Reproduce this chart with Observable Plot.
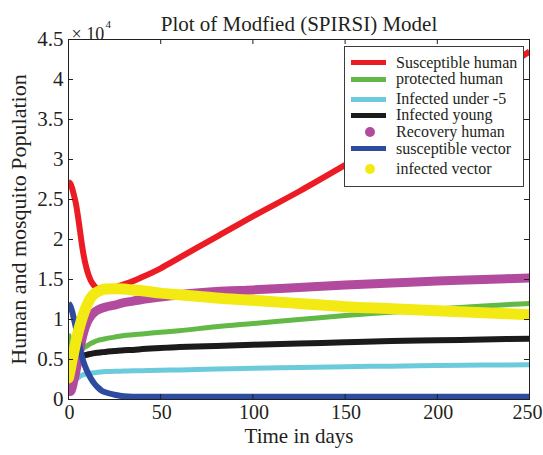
<!DOCTYPE html>
<html>
<head>
<meta charset="utf-8">
<script src="https://cdn.jsdelivr.net/npm/d3@7"></script>
<script src="https://cdn.jsdelivr.net/npm/@observablehq/plot@0.6"></script>
<style>
  html, body { margin: 0; padding: 0; background: #fff; }
  #wrap { position: relative; width: 543px; height: 455px; overflow: hidden; }
  #legend {
    position: absolute; left: 344px; top: 46px; width: 180px; height: 141px;
    box-sizing: border-box; border: 1px solid #3c3c3c; background: #fff;
    font-family: "Liberation Serif", "Times New Roman", serif; font-size: 16px; color: #231f20;
  }
  .lrow { position: absolute; left: 0; height: 20px; width: 100%; }
  .lrow .sw { position: absolute; left: 6px; top: 7.5px; width: 35px; height: 5px; }
  .lrow .dot { position: absolute; left: 20px; top: 5px; width: 10px; height: 10px; border-radius: 50%; }
  .lrow .lab { position: absolute; left: 51px; top: 0; line-height: 20px; white-space: nowrap; }
</style>
</head>
<body>
<div id="wrap"></div>
<script>
// ---- data (population in units of 10^4) ----
const days = [0,1,2,3,4,5,6,7,8,10,12,14,16,18,20,25,30,35,40,50,60,80,100,125,150,175,200,225,250];

const susceptibleHuman = [2.72,2.70,2.64,2.55,2.45,2.31,2.15,1.98,1.83,1.62,1.49,1.42,1.38,1.37,1.37,1.40,1.44,1.48,1.53,1.64,1.77,2.03,2.29,2.60,2.93,3.27,3.62,3.98,4.35];
const protectedHuman   = [0.82,0.72,0.63,0.58,0.57,0.58,0.60,0.62,0.64,0.67,0.70,0.72,0.74,0.75,0.76,0.78,0.80,0.81,0.82,0.84,0.86,0.91,0.95,1.00,1.05,1.09,1.13,1.17,1.20];
const infectedUnder5   = [0.12,0.14,0.18,0.22,0.25,0.27,0.285,0.30,0.31,0.32,0.33,0.335,0.34,0.345,0.35,0.352,0.355,0.358,0.36,0.365,0.37,0.38,0.39,0.40,0.41,0.417,0.424,0.43,0.435];
const infectedYoung    = [0.20,0.33,0.42,0.47,0.50,0.52,0.535,0.545,0.55,0.56,0.57,0.58,0.585,0.59,0.595,0.605,0.615,0.62,0.63,0.645,0.655,0.67,0.685,0.70,0.715,0.73,0.74,0.75,0.76];
const recoveryHuman    = [0.12,0.10,0.15,0.25,0.35,0.47,0.60,0.72,0.82,0.96,1.04,1.09,1.12,1.14,1.155,1.18,1.21,1.23,1.25,1.28,1.31,1.35,1.37,1.40,1.43,1.455,1.48,1.50,1.52];
const susceptibleVector= [1.20,1.17,1.10,1.00,0.90,0.79,0.67,0.56,0.48,0.36,0.27,0.20,0.15,0.11,0.09,0.06,0.04,0.035,0.035,0.035,0.035,0.035,0.035,0.035,0.035,0.035,0.035,0.035,0.035];
const infectedVector   = [0.27,0.38,0.50,0.61,0.72,0.82,0.91,0.99,1.06,1.18,1.27,1.32,1.35,1.37,1.38,1.385,1.38,1.37,1.36,1.33,1.31,1.27,1.24,1.20,1.16,1.135,1.11,1.085,1.06];

const seriesNames  = ["Susceptible human","protected human","Infected under -5","Infected young","Recovery human","susceptible vector","infected vector"];
const seriesColors = ["#ec1c24","#62b946","#6bcbdb","#1c1a1b","#b24b9e","#2e4c9f","#f3ea14"];
const seriesValues = [susceptibleHuman, protectedHuman, infectedUnder5, infectedYoung, recoveryHuman, susceptibleVector, infectedVector];
const seriesKind   = ["line","line","line","line","dot","line","dot"];

const xTicks = [0,50,100,150,200,250];
const yTicks = [0,0.5,1,1.5,2,2.5,3,3.5,4,4.5];

const titleText = "Plot of Modfied (SPIRSI) Model";
const xLabel = "Time in days";
const yLabel = "Human and mosquito Population";

// ---- styling ----
const widths = [6,5,5,6,9,6,11];
const W = 543, H = 455, mL = 68, mR = 14, mT = 39, mB = 56;
const fw = W - mL - mR, fh = H - mT - mB, tk = 5;

const lineMarks = seriesValues.map((vals, i) =>
  Plot.line(days, {x: days, y: vals, stroke: seriesColors[i], strokeWidth: widths[i],
    curve: "monotone-x", clip: true, strokeLinecap: seriesKind[i] === "dot" ? "round" : "butt"}));

const lastTick = xTicks[xTicks.length - 1];
const chart = Plot.plot({
  width: W, height: H,
  marginLeft: mL, marginRight: mR, marginTop: mT, marginBottom: mB,
  x: {domain: [0, 250]},
  y: {domain: [0, 4.5]},
  style: {fontFamily: "'Liberation Serif', 'Times New Roman', serif", fontSize: "21px", color: "#231f20", background: "#fff", overflow: "visible"},
  marks: [
    Plot.axisX(xTicks.filter(d => d !== lastTick), {anchor: "bottom", tickSize: 0, tickPadding: 5, label: null, fontSize: 20, dx: 1, tickFormat: d => String(d)}),
    Plot.axisX([lastTick], {anchor: "bottom", tickSize: 0, tickPadding: 5, label: null, fontSize: 20, dx: -2, tickFormat: d => String(d)}),
    Plot.axisY(yTicks, {anchor: "left", tickSize: 0, tickPadding: 5, label: null, fontSize: 21, tickFormat: d => String(d)}),
    ...lineMarks,
    Plot.tickX(xTicks, {x: d => d, insetTop: fh - tk, stroke: "#231f20"}),
    Plot.tickX(xTicks, {x: d => d, insetBottom: fh - tk, stroke: "#231f20"}),
    Plot.tickY(yTicks, {y: d => d, insetRight: fw - tk, stroke: "#231f20"}),
    Plot.tickY(yTicks, {y: d => d, insetLeft: fw - tk, stroke: "#231f20"}),
    Plot.frame({stroke: "#231f20"}),
    Plot.text([titleText], {frameAnchor: "top", textAnchor: "middle", dy: -23, fontSize: 21, fill: "#231f20"}),
    Plot.text([xLabel], {frameAnchor: "bottom", textAnchor: "middle", dy: 43, fontSize: 21, fill: "#231f20"}),
    Plot.text([yLabel], {frameAnchor: "left", textAnchor: "middle", dx: -50, rotate: -90, fontSize: 22, fill: "#231f20"}),
    Plot.text(["\u00d7 10"], {frameAnchor: "top-left", textAnchor: "start", dx: 3, dy: -12, fontSize: 18, fill: "#231f20"}),
    Plot.text(["4"], {frameAnchor: "top-left", textAnchor: "start", dx: 37, dy: -19, fontSize: 11, fill: "#231f20"})
  ]
});

const wrap = document.getElementById("wrap");
wrap.appendChild(chart);

// ---- legend ----
const legendRowCenter = [15.5, 32, 52, 68, 85, 101.5, 121.5];
const legend = document.createElement("div");
legend.id = "legend";
seriesNames.forEach((name, i) => {
  const row = document.createElement("div");
  row.className = "lrow";
  row.style.top = (legendRowCenter[i] - 10) + "px";
  const sw = document.createElement("div");
  sw.className = seriesKind[i] === "dot" ? "dot" : "sw";
  sw.style.background = seriesColors[i];
  const lab = document.createElement("span");
  lab.className = "lab";
  lab.textContent = name;
  row.appendChild(sw);
  row.appendChild(lab);
  legend.appendChild(row);
});
wrap.appendChild(legend);
</script>
</body>
</html>
